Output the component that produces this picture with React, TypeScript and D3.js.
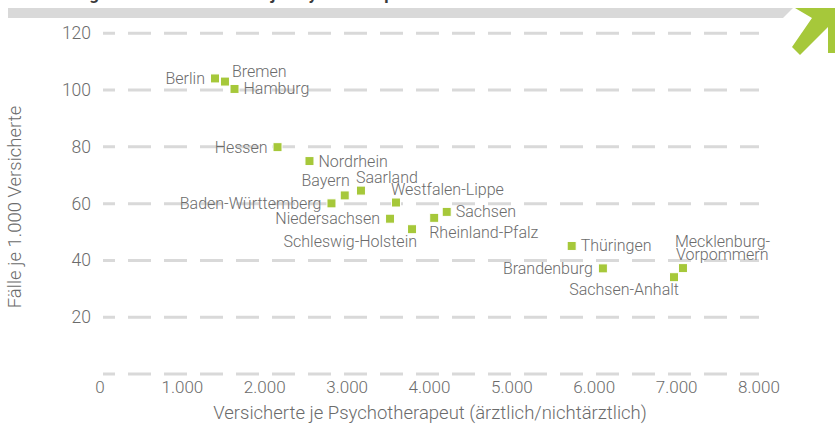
import React from "react";
import * as d3 from "d3";

const states = [
  "Berlin", "Bremen", "Hamburg", "Hessen", "Nordrhein", "Bayern", "Saarland",
  "Baden-Württemberg", "Westfalen-Lippe", "Niedersachsen", "Schleswig-Holstein",
  "Rheinland-Pfalz", "Sachsen", "Thüringen", "Brandenburg", "Sachsen-Anhalt",
  "Mecklenburg-Vorpommern",
];
const insuredPerTherapist = [
  1396, 1517, 1633, 2155, 2543, 2971, 3168, 2810, 3593, 3521, 3788, 4057, 4209,
  5726, 6105, 6968, 7077,
];
const casesPer1000 = [
  104.1, 103.0, 100.4, 79.9, 75.0, 62.9, 64.6, 60.1, 60.4, 54.7, 51.0, 55.0, 57.1,
  45.1, 37.2, 34.1, 37.3,
];
const labelSide = [
  "w", "ene", "e", "w", "e", "nw", "ne", "w", "ne", "w", "sw", "se", "e", "e", "w",
  "sw", "ne2",
];
const xTicks = [0, 1000, 2000, 3000, 4000, 5000, 6000, 7000, 8000];
const yTicks = [0, 20, 40, 60, 80, 100, 120];
const xTitle = "Versicherte je Psychotherapeut (ärztlich/nichtärztlich)";
const yTitle = "Fälle je 1.000 Versicherte";
const chartTitle = "Behandlungsfälle und Versicherte je Psychotherapeut";

const W = 835;
const H = 427;
const FONT = "Roboto, 'Open Sans', sans-serif";
const TEXT = "#6b6b6b";
const GREEN = "#a6c83a";
const GRID = "#d9d9d9";

const fmt = (v: number) => (v === 0 ? "0" : d3.format(",")(v).replace(/,/g, "."));

export default function App() {
  const x = d3.scaleLinear().domain([0, 8000]).range([100, 759]);
  const y = d3.scaleLinear().domain([0, 120]).range([374, 33.3]);
  const sq = 9;

  const label = (i: number) => {
    const cx = x(insuredPerTherapist[i]);
    const cy = y(casesPer1000[i]);
    const side = labelSide[i];
    const common = {
      fontFamily: FONT,
      fontSize: 16,
      fontWeight: 300,
      fill: TEXT,
      dominantBaseline: "central" as const,
    };
    if (side === "ne2") {
      const parts = states[i].split("-");
      return (
        <text key={"l" + i} {...common} x={cx - 8} y={cy - 27}>
          <tspan x={cx - 8} y={cy - 27}>{parts[0] + "-"}</tspan>
          <tspan x={cx - 7} y={cy - 14}>{parts[1]}</tspan>
        </text>
      );
    }
    let tx = cx, ty = cy, anchor = "start";
    if (side === "w") { tx = cx - 10; anchor = "end"; }
    else if (side === "e") { tx = cx + 9; }
    else if (side === "ene") { tx = cx + 7; ty = cy - 10; }
    else if (side === "ne") { tx = cx - 5; ty = cy - 13.5; }
    else if (side === "nw") { tx = cx + 5; ty = cy - 14.5; anchor = "end"; }
    else if (side === "sw") { tx = cx + 5; ty = cy + 12; anchor = "end"; }
    else if (side === "se") { tx = cx - 5; ty = cy + 15; }
    return (
      <text key={"l" + i} {...common} x={tx} y={ty} textAnchor={anchor}>
        {states[i]}
      </text>
    );
  };

  return (
    <svg
      width={W}
      height={H}
      viewBox={`0 0 ${W} ${H}`}
      style={{ position: "absolute", left: 0, top: 0, background: "#fff" }}
    >
      <text x={8} y={0} fontFamily={FONT} fontWeight={700} fontSize={17} fill="#3a3a3a">
        {chartTitle}
      </text>
      <polygon points="8,8 793,8 783,18 8,18" fill={GRID} />
      <polygon
        points="795,8 842,8 842,53 828,53 828,27 800,55 792,47 812,18"
        fill={GREEN}
      />

      {yTicks.map((t) => (
        <line
          key={"g" + t}
          x1={103}
          x2={759}
          y1={y(t)}
          y2={y(t)}
          stroke={GRID}
          strokeWidth={3}
          strokeDasharray="23 13"
          strokeDashoffset={11}
        />
      ))}
      {yTicks.filter((t) => t > 0).map((t) => (
        <text
          key={"yt" + t}
          x={91}
          y={y(t)}
          textAnchor="end"
          dominantBaseline="central"
          fontFamily={FONT}
          fontWeight={300}
          fontSize={17.5}
          fill={TEXT}
        >
          {t}
        </text>
      ))}
      {xTicks.map((t) => (
        <text
          key={"xt" + t}
          x={x(t)}
          y={387}
          textAnchor="middle"
          dominantBaseline="central"
          fontFamily={FONT}
          fontWeight={300}
          fontSize={17}
          fill={TEXT}
        >
          {fmt(t)}
        </text>
      ))}
      <text
        x={430}
        y={413}
        textAnchor="middle"
        dominantBaseline="central"
        fontFamily={FONT}
        fontWeight={300}
        fontSize={18.5}
        fill={TEXT}
      >
        {xTitle}
      </text>
      <text
        transform={`translate(15,207) rotate(-90)`}
        textAnchor="middle"
        dominantBaseline="central"
        fontFamily={FONT}
        fontWeight={300}
        fontSize={18.5}
        fill={TEXT}
      >
        {yTitle}
      </text>

      {states.map((s, i) => (
        <rect
          key={"p" + i}
          x={x(insuredPerTherapist[i]) - sq / 2}
          y={y(casesPer1000[i]) - sq / 2}
          width={sq}
          height={sq}
          fill={GREEN}
          stroke="#fff"
          strokeWidth={1}
        />
      ))}
      {states.map((_, i) => label(i))}
    </svg>
  );
}
